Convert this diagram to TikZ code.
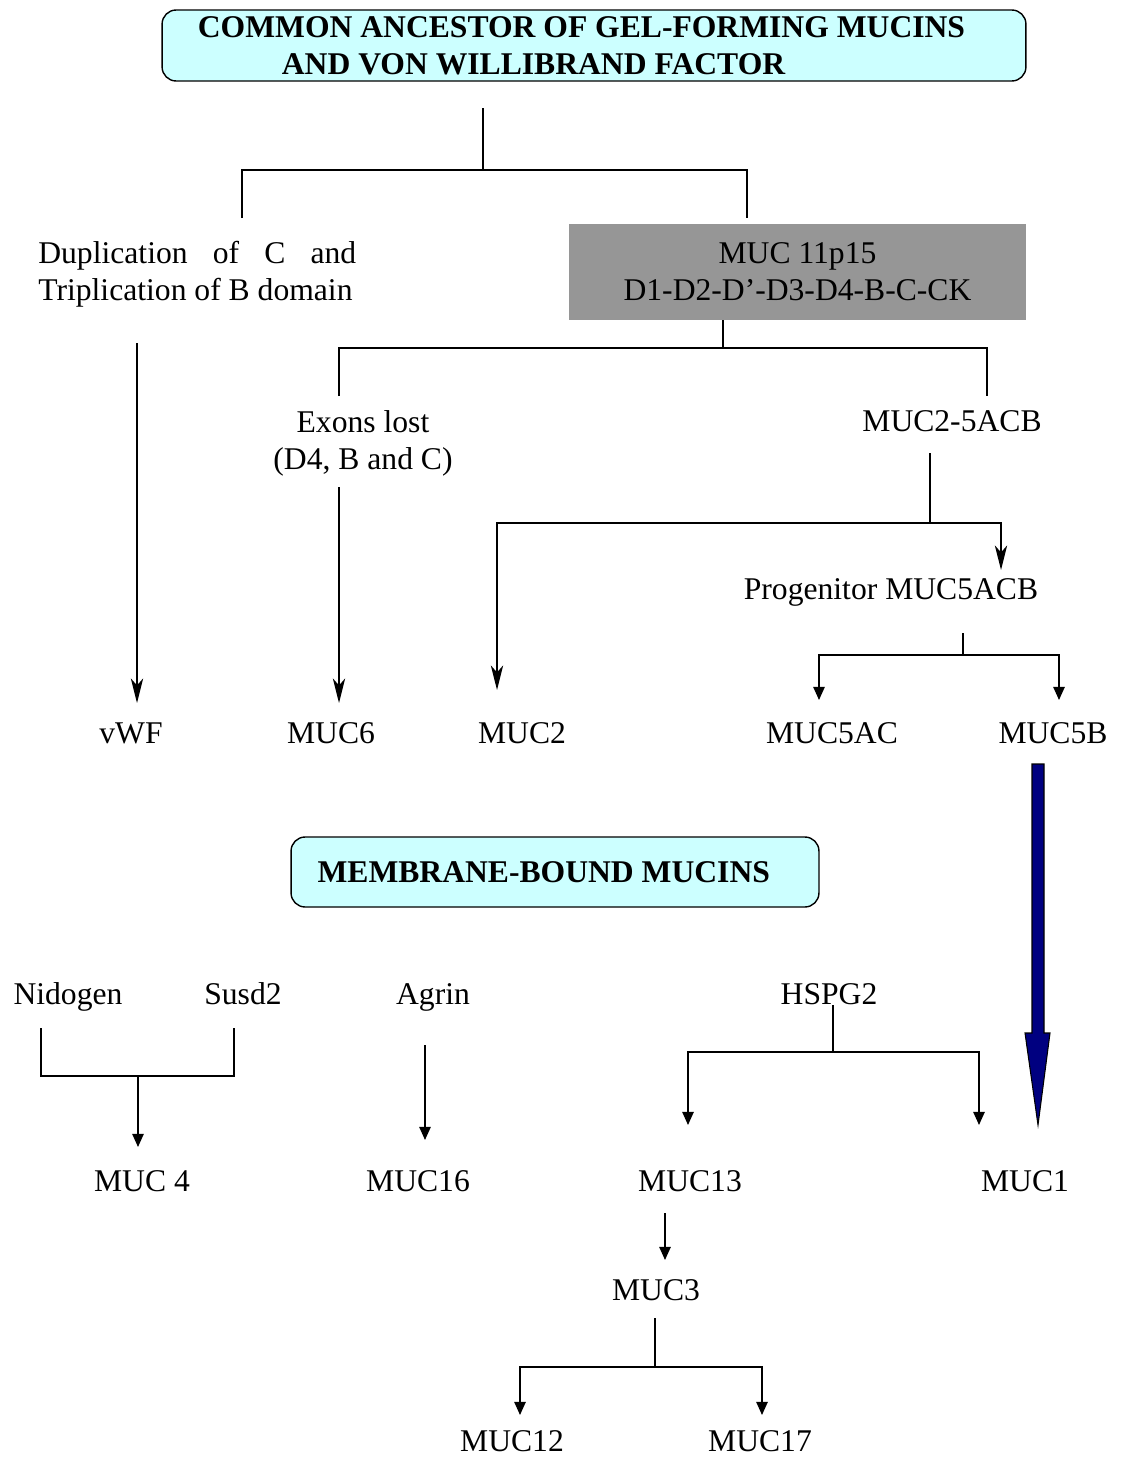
\documentclass[tikz,border=0pt]{standalone}
\usepackage{fontspec}
\setmainfont{Liberation Serif}
\usetikzlibrary{arrows.meta}
\definecolor{paleaqua}{RGB}{204,255,255}
\definecolor{boxgrey}{RGB}{150,150,150}
\definecolor{deepnavy}{RGB}{0,0,128}
\newcommand\mainsz{\fontsize{18}{21}\selectfont}

\begin{document}
\begin{tikzpicture}[x=0.02cm,y=-0.02cm,
  lbl/.style={font=\mainsz,inner sep=0pt,text depth=0pt},
  multilbl/.style={font=\mainsz,inner sep=0pt},
  hdrbox/.style={draw,fill=paleaqua,rounded corners=8pt,line width=0.8pt,
    font=\mainsz\bfseries,inner sep=0pt},
  link/.style={line width=0.9pt},
  opentip/.style={link,-{Stealth[length=14pt,width=7pt,inset=4pt]}},
  fulltip/.style={link,-{Triangle[length=7.5pt,width=6.5pt]}}]

\useasboundingbox (0,0) rectangle (1122,1457);

%% ── gel-forming mucins ──────────────────────────────────────────────
\node[hdrbox,minimum width=17.28cm,minimum height=1.42cm,align=left]
  (anc) at (594,45.5)
  {COMMON ANCESTOR OF GEL-FORMING MUCINS\hspace*{0.5cm}\\\hspace*{1.68cm}AND VON WILLIBRAND FACTOR};

\node[multilbl,align=left,anchor=west] (dup) at (38,274.5)
  {\makebox[6.36cm][s]{Duplication of C and}\\Triplication of B domain};
\node[fill=boxgrey,minimum width=9.14cm,minimum height=1.92cm,inner sep=0pt,
  font=\mainsz,align=center] (muc11) at (797.5,272)
  {MUC 11p15\\D1-D2-D’-D3-D4-B-C-CK};

\node[multilbl,align=center] (exons) at (363,443.5) {Exons lost\\(D4, B and C)};
\node[lbl] (muc25acb) at (952,421) {MUC2-5ACB};
\node[lbl] (prog) at (891,589) {Progenitor MUC5ACB};

\node[lbl] (vwf) at (131,733) {vWF};
\node[lbl] (muc6) at (331,733) {MUC6};
\node[lbl] (muc2) at (522,733) {MUC2};
\node[lbl] (muc5ac) at (832,733) {MUC5AC};
\node[lbl] (muc5b) at (1053,733) {MUC5B};

%% connectors, upper tree
\coordinate (a0) at (483,108);
\coordinate (a1) at (483,170);
\coordinate (aL) at (242,218);
\coordinate (aR) at (747,218);
\draw[link] (a0) -- (a1);
\draw[link] (aL) |- (a1) -| (aR);

\coordinate (b1) at (723,348);
\coordinate (bL) at (339,396);
\coordinate (bR) at (987,396);
\draw[link] (muc11.south -| b1) -- (b1);
\draw[link] (bL) |- (b1) -| (bR);

\coordinate (c0) at (137,343);
\coordinate (c1) at (137,703);
\draw[opentip] (c0) -- (c1);

\coordinate (d0) at (339,487);
\coordinate (d1) at (339,703);
\draw[opentip] (d0) -- (d1);

\coordinate (e0) at (930,453);
\coordinate (e1) at (930,523);
\coordinate (eL) at (497,690);
\coordinate (eR) at (1001,570);
\draw[link] (e0) -- (e1);
\draw[opentip] (e1) -| (eL);
\draw[opentip] (e1) -| (eR);

\coordinate (f0) at (963,633);
\coordinate (f1) at (963,655);
\coordinate (fL) at (819,700);
\coordinate (fR) at (1059,700);
\draw[link] (f0) -- (f1);
\draw[fulltip] (f1) -| (fL);
\draw[fulltip] (f1) -| (fR);

%% MUC5B -> MUC1 (block arrow)
\filldraw[fill=deepnavy,draw=black,line width=0.6pt]
  (1032,764) -- (1044,764) -- (1044,1033) -- (1050,1033) -- (1038,1125)
  -- (1025,1033) -- (1032,1033) -- cycle;

%% ── membrane-bound mucins ───────────────────────────────────────────
\node[hdrbox,minimum width=10.56cm,minimum height=1.4cm] (membr) at (555,872)
  {\hspace*{-0.45cm}MEMBRANE-BOUND MUCINS};

\node[lbl] (nidogen) at (68,994) {Nidogen};
\node[lbl] (susd2) at (243,994) {Susd2};
\node[lbl] (agrin) at (433,994) {Agrin};
\node[lbl] (hspg2) at (829,994) {HSPG2};

\node[lbl] (muc4) at (142,1181) {MUC 4};
\node[lbl] (muc16) at (418,1181) {MUC16};
\node[lbl] (muc13) at (690,1181) {MUC13};
\node[lbl] (muc1) at (1025,1181) {MUC1};
\node[lbl] (muc3) at (656,1290) {MUC3};
\node[lbl] (muc12) at (512,1441) {MUC12};
\node[lbl] (muc17) at (760,1441) {MUC17};

%% connectors, lower tree
\coordinate (gL) at (41,1028);
\coordinate (gR) at (234,1028);
\coordinate (g1) at (138,1076);
\coordinate (g2) at (138,1147);
\draw[link] (gL) |- (g1);
\draw[link] (gR) |- (g1);
\draw[fulltip] (g1) -- (g2);

\coordinate (h0) at (425,1045);
\coordinate (h1) at (425,1140);
\draw[fulltip] (h0) -- (h1);

\coordinate (i0) at (833,1005);
\coordinate (i1) at (833,1052);
\coordinate (iL) at (688,1125);
\coordinate (iR) at (979,1125);
\draw[link] (i0) -- (i1);
\draw[fulltip] (i1) -| (iL);
\draw[fulltip] (i1) -| (iR);

\coordinate (k0) at (665,1213);
\coordinate (k1) at (665,1260);
\draw[fulltip] (k0) -- (k1);

\coordinate (m0) at (655,1318);
\coordinate (m1) at (655,1367);
\coordinate (mL) at (520,1415);
\coordinate (mR) at (762,1415);
\draw[link] (m0) -- (m1);
\draw[fulltip] (m1) -| (mL);
\draw[fulltip] (m1) -| (mR);

\end{tikzpicture}
\end{document}
